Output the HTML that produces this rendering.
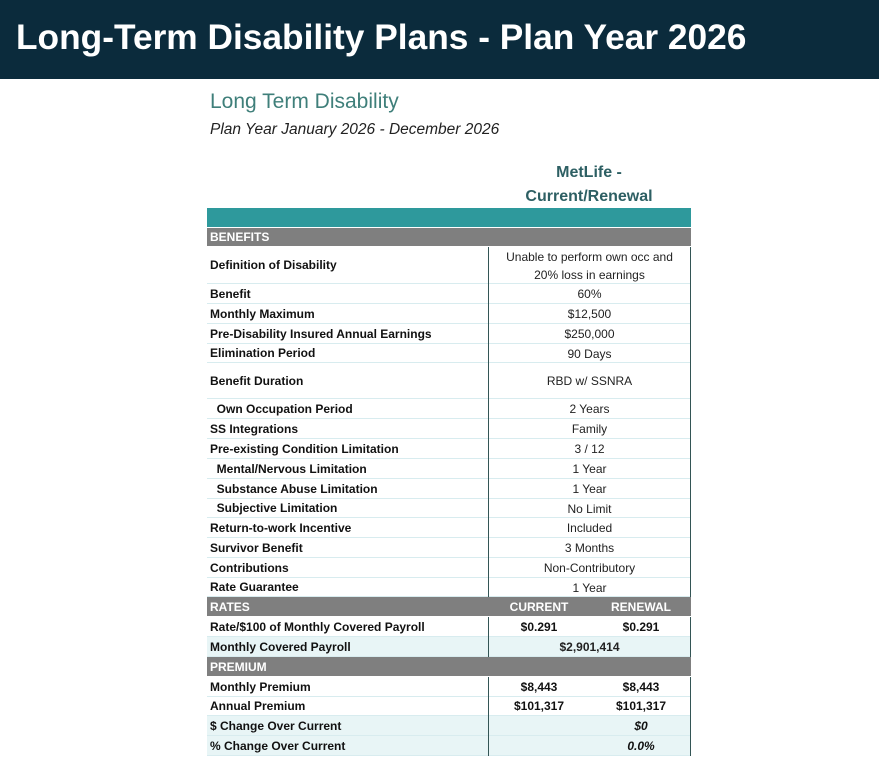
<!DOCTYPE html>
<html><head><meta charset="utf-8"><style>
body{margin:0;width:879px;height:764px;background:#fff;position:relative;overflow:hidden;font-family:"Liberation Sans",sans-serif}
.hdr{position:absolute;left:0;top:0;width:879px;height:79px;background:#0b2b3c;color:#fff;font-weight:bold;font-size:35.3px;line-height:76px;padding-left:16px;box-sizing:border-box}
.t1{position:absolute;left:210px;top:90px;font-size:21px;color:#3f7f7a}
.t2{position:absolute;left:210px;top:121px;font-size:15.5px;font-style:italic;color:#222}
.ch{position:absolute;left:487px;width:204px;text-align:center;top:161px;font-weight:bold;font-size:16px;color:#2d5f63;line-height:24px}
.r{position:absolute;left:207px;width:484px;box-sizing:border-box;border-bottom:1px solid #d8ecef;font-size:12px}
.r .l{position:absolute;left:3px;top:0;bottom:0;display:flex;align-items:center;font-weight:bold;color:#111}
.r .v{position:absolute;left:281px;right:0;top:0;bottom:-1px;display:flex;align-items:center;justify-content:center;text-align:center;color:#222;border-left:1px solid #355;border-right:1px solid #355;line-height:18px}
.sec{background:#7f7f7f;border-bottom:1px solid #fff}
.sec .l{color:#fff}
.sec .v{border:none}
.lt{background:#e8f5f6}
.c{position:absolute;top:0;bottom:0;display:flex;align-items:center;justify-content:center;width:100px;font-weight:bold;color:#111}
</style></head><body>
<div class="hdr">Long-Term Disability Plans - Plan Year 2026</div>
<div class="t1">Long Term Disability</div>
<div class="t2">Plan Year January 2026 - December 2026</div>
<div class="ch">MetLife -<br>Current/Renewal</div>
<div style="position:absolute;left:207px;top:208px;width:484px;height:19px;background:#2e999c"></div>
<div id="tbl"></div>
<script>
const rows=[
[228,247,'BENEFITS','','sec'],
[247,284,'Definition of Disability','Unable to perform own occ and<br>20% loss in earnings',''],
[284,304,'Benefit','60%',''],
[304,324,'Monthly Maximum','$12,500',''],
[324,344,'Pre-Disability Insured Annual Earnings','$250,000',''],
[344,363,'Elimination Period','90 Days',''],
[363,399,'Benefit Duration','RBD w/ SSNRA',''],
[399,419,'&nbsp;&nbsp;Own Occupation Period','2 Years',''],
[419,439,'SS Integrations','Family',''],
[439,459,'Pre-existing Condition Limitation','3 / 12',''],
[459,479,'&nbsp;&nbsp;Mental/Nervous Limitation','1 Year',''],
[479,499,'&nbsp;&nbsp;Substance Abuse Limitation','1 Year',''],
[499,518,'&nbsp;&nbsp;Subjective Limitation','No Limit',''],
[518,538,'Return-to-work Incentive','Included',''],
[538,558,'Survivor Benefit','3 Months',''],
[558,578,'Contributions','Non-Contributory',''],
[578,597,'Rate Guarantee','1 Year',''],
[597,617,'RATES','','sec',['CURRENT','RENEWAL']],
[617,637,'Rate/$100 of Monthly Covered Payroll','','',['$0.291','$0.291']],
[637,657,'Monthly Covered Payroll','<b>$2,901,414</b>','lt'],
[657,677,'PREMIUM','','sec'],
[677,697,'Monthly Premium','','',['$8,443','$8,443']],
[697,716,'Annual Premium','','',['$101,317','$101,317']],
[716,736,'$ Change Over Current','','lt',['','<i>$0</i>']],
[736,756,'% Change Over Current','','lt',['','<i>0.0%</i>']]
];
const t=document.getElementById('tbl');
rows.forEach(r=>{
const d=document.createElement('div');


d.className='r '+r[4];d.style.top=r[0]+'px';d.style.height=(r[1]-r[0])+'px';
let h='<div class="l">'+r[2]+'</div><div class="v">'+r[3]+'</div>';
if(r[5]){h+='<div class="c" style="left:282px;'+(r[4]=='sec'?'color:#fff':'')+'">'+r[5][0]+'</div><div class="c" style="left:384px;'+(r[4]=='sec'?'color:#fff':'')+'">'+r[5][1]+'</div>';}
d.innerHTML=h;t.appendChild(d);
});
</script>
</body></html>
